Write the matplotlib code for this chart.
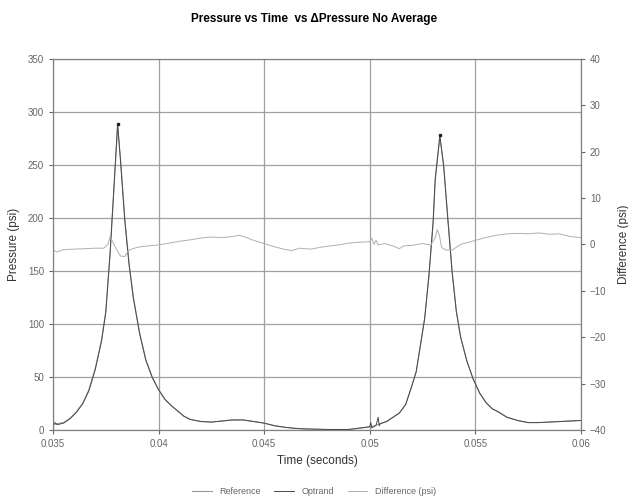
import numpy as np
import matplotlib
matplotlib.use('Agg')
import matplotlib.pyplot as plt

plt.rcParams['font.family'] = ['Liberation Sans', 'DejaVu Sans']

# 시간 (초) - 압력 곡선
t_ref = [0.0350, 0.0352, 0.0355, 0.0358, 0.0361, 0.0364, 0.0367, 0.0370, 0.0373, 0.0375,
         0.0377, 0.0379, 0.03806, 0.0382, 0.0384, 0.0386, 0.0388, 0.0391, 0.0394, 0.0397,
         0.0400, 0.0403, 0.0406, 0.0409, 0.0412, 0.0415, 0.0420, 0.0425, 0.0430, 0.0435,
         0.0440, 0.0445, 0.0450, 0.0455, 0.0460, 0.0465, 0.0470, 0.0480, 0.0490, 0.0500,
         0.0503, 0.0505, 0.0508, 0.0511, 0.0514, 0.0517, 0.0520, 0.0522, 0.0524, 0.0526,
         0.0528, 0.0530, 0.0531, 0.05332, 0.0535, 0.0537, 0.0539, 0.0541, 0.0543, 0.0546,
         0.0549, 0.0552, 0.0555, 0.0558, 0.0561, 0.0565, 0.0570, 0.0575, 0.0580, 0.0585,
         0.0590, 0.0595, 0.0600]
p_ref = [5, 6, 7, 11, 17, 25, 38, 58, 85, 112,
         165, 232, 287, 255, 200, 158, 126, 92, 66, 50,
         38, 29, 23, 18, 13, 10, 8, 7.5, 8.5, 9.5,
         9.5, 8, 6.5, 4, 2.5, 1.5, 1, 0.5, 0.5, 3,
         4.5, 6, 8, 12, 16, 24, 42, 55, 80, 105,
         145, 195, 235, 276, 250, 200, 150, 112, 88, 65,
         48, 35, 26, 20, 17, 12, 9, 7, 7, 7.5,
         8, 8.5, 9]

t_opt = [0.0350, 0.0351, 0.0352, 0.0355, 0.0358, 0.0361, 0.0364, 0.0367, 0.0370, 0.0373, 0.0375,
         0.0377, 0.0379, 0.03806, 0.0382, 0.0384, 0.0386, 0.0388, 0.0391, 0.0394, 0.0397,
         0.0400, 0.0403, 0.0406, 0.0409, 0.0412, 0.0415, 0.0420, 0.0425, 0.0430, 0.0435,
         0.0440, 0.0445, 0.0450, 0.0455, 0.0460, 0.0465, 0.0470, 0.0480, 0.0490, 0.0500,
         0.05005, 0.0501, 0.0503, 0.0504, 0.05045, 0.0505, 0.0508, 0.0511, 0.0514, 0.0517,
         0.0520, 0.0522, 0.0524, 0.0526, 0.0528, 0.0530, 0.0531, 0.05332, 0.0535, 0.0537,
         0.0539, 0.0541, 0.0543, 0.0546, 0.0549, 0.0552, 0.0555, 0.0558, 0.0561, 0.0565,
         0.0570, 0.0575, 0.0580, 0.0585, 0.0590, 0.0595, 0.0600]
p_opt = [4, 7, 5, 6.5, 10.5, 16.5, 24.5, 37, 57, 84, 111,
         166, 234, 289, 253, 197, 156, 125, 91, 65.5, 49.5,
         38, 29, 23, 18, 13, 10, 8, 7.5, 8.5, 9.5,
         9.5, 8, 6.5, 4, 2.5, 1.5, 1, 0.5, 0.5, 3,
         7, 2, 4.5, 12, 4, 6, 8, 12, 16, 24,
         42, 55, 80, 105, 145, 196, 237, 278, 249, 198,
         149, 112, 88, 65, 48, 35, 26, 20, 17, 12,
         9, 7, 7, 7.5, 8, 8.5, 9]

# 차이 (psi)
t_diff = [0.0350, 0.0352, 0.0355, 0.0360, 0.0365, 0.0370, 0.0374, 0.0376, 0.0377, 0.0378,
          0.0380, 0.0382, 0.0384, 0.0385, 0.0386, 0.0390, 0.0395, 0.0400, 0.0405, 0.0410,
          0.0415, 0.0420, 0.0425, 0.0430, 0.0435, 0.0438, 0.0441, 0.0445, 0.0450, 0.0455,
          0.0460, 0.0463, 0.0467, 0.0472, 0.0478, 0.0485, 0.0490, 0.0495, 0.0500, 0.0501,
          0.0502, 0.0503, 0.0504, 0.0507, 0.0511, 0.0514, 0.0516, 0.0520, 0.0525, 0.0529,
          0.0531, 0.0532, 0.0533, 0.0534, 0.0536, 0.0539, 0.0541, 0.0543, 0.0547, 0.0550,
          0.0555, 0.0560, 0.0565, 0.0570, 0.0575, 0.0580, 0.0585, 0.0590, 0.0595, 0.0600]
d_diff = [-1.2, -1.6, -1.1, -1.0, -0.9, -0.8, -0.8, 0.0, 1.6, 0.8,
          -1.0, -2.5, -2.6, -1.8, -1.2, -0.6, -0.3, -0.1, 0.3, 0.7,
          1.0, 1.4, 1.6, 1.5, 1.7, 2.0, 1.6, 0.9, 0.2, -0.5,
          -1.1, -1.3, -0.8, -1.0, -0.5, -0.1, 0.3, 0.5, 0.6, 1.4,
          0.0, 0.9, -0.1, 0.2, -0.3, -0.9, -0.3, -0.2, 0.2, -0.1,
          1.5, 3.2, 2.0, -0.6, -1.2, -1.2, -0.6, 0.0, 0.5, 0.9,
          1.5, 2.0, 2.3, 2.4, 2.3, 2.5, 2.2, 2.3, 1.7, 1.5]

x_ticks = [0.035, 0.04, 0.045, 0.05, 0.055, 0.06]
x_labels = ['0.035', '0.04', '0.045', '0.05', '0.055', '0.06']

fig = plt.figure(figsize=(6.28, 5.04), dpi=100)
ax = fig.add_axes([0.0844, 0.1468, 0.8406, 0.7362])
ax2 = ax.twinx()

ax.plot(t_ref, p_ref, color='#9a9a9a', linewidth=0.8, label='Reference')
ax.plot(t_opt, p_opt, color='#4a4a4a', linewidth=0.7, label='Optrand')
ax2.plot(t_diff, d_diff, color='#b0b0b0', linewidth=0.7, label='Difference (psi)')

# 피크 지점 표시
p_arr = np.array(p_opt)
t_arr = np.array(t_opt)
for lo, hi in [(0.036, 0.040), (0.052, 0.055)]:
    m = (t_arr > lo) & (t_arr < hi)
    i = np.argmax(p_arr[m])
    ax.plot(t_arr[m][i], p_arr[m][i], 's', color='#222222', markersize=1.8)

ax.set_xlim(0.035, 0.06)
ax.set_ylim(0, 350)
ax2.set_ylim(-40, 40)
ax.set_xticks(x_ticks)
ax.set_xticklabels(x_labels)
ax.set_yticks(range(0, 351, 50))
ax2.set_yticks(range(-40, 41, 10))

ax.grid(True, color='#a0a0a0', linewidth=0.9)
ax.set_axisbelow(True)
for a in (ax, ax2):
    for s in a.spines.values():
        s.set_color('#808080')
    a.tick_params(labelsize=7, colors='#666666', length=3, width=0.8)

ax.set_xlabel('Time (seconds)', fontsize=8.5, color='#333333', labelpad=4)
ax.set_ylabel('Pressure (psi)', fontsize=8.5, color='#333333', labelpad=6)
ax2.set_ylabel('Difference (psi)', fontsize=8.5, color='#333333', labelpad=8)

fig.suptitle('Pressure vs Time  vs \u0394Pressure No Average', fontsize=8.5,
             fontweight='bold', y=0.975)

h1, l1 = ax.get_legend_handles_labels()
h2, l2 = ax2.get_legend_handles_labels()
fig.legend(h1 + h2, l1 + l2, loc='lower center', bbox_to_anchor=(0.5, 0.0),
           ncol=3, frameon=False, fontsize=6.5, handlelength=2.2,
           columnspacing=1.5, labelcolor='#666666')

fig.savefig('out.png', dpi=100)
